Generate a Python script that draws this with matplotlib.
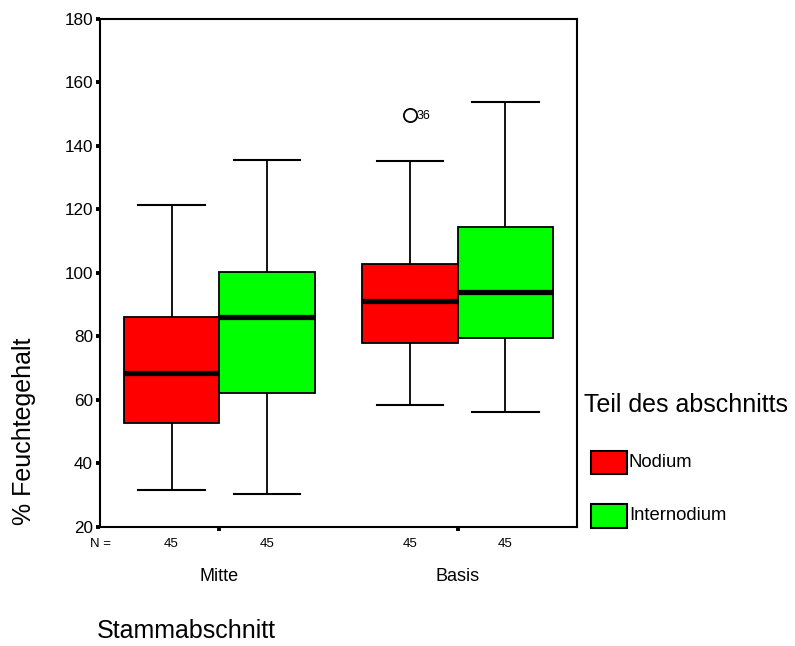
import matplotlib
matplotlib.use("Agg")
import matplotlib.pyplot as plt
from matplotlib.patches import Rectangle

plt.rcParams['font.family'] = ['Liberation Sans', 'DejaVu Sans']

groups = ["Mitte", "Basis"]
parts = ["Nodium", "Internodium"]
colors = ["#ff0000", "#00ff00"]
n_counts = [[45, 45], [45, 45]]
# stats per group, per part
whislo = [[31.5, 30.3], [58.3, 56.0]]
q1 = [[52.7, 62.2], [77.8, 79.5]]
med = [[68.3, 86.2], [91.2, 94.0]]
q3 = [[86.2, 100.2], [102.9, 114.6]]
whishi = [[121.4, 135.5], [135.4, 153.8]]
fliers = [[[], []], [[149.7], []]]
flier_labels = [[[], []], [["36"], []]]

fig = plt.figure(figsize=(7.95, 6.46), dpi=100)
ax = fig.add_axes([100/795, 1-526.7/646, 477/795, (526.7-19)/646])

offsets = [-0.2, 0.2]
bw = 0.4
for gi, g in enumerate(groups):
    for pi, p in enumerate(parts):
        pos = gi + 1 + offsets[pi]
        st = dict(med=med[gi][pi], q1=q1[gi][pi], q3=q3[gi][pi],
                  whislo=whislo[gi][pi], whishi=whishi[gi][pi],
                  fliers=fliers[gi][pi])
        ax.bxp([st], positions=[pos], widths=bw, patch_artist=True,
               showfliers=True, capwidths=[bw*0.7],
               boxprops=dict(facecolor=colors[pi], edgecolor='black', linewidth=1.3),
               medianprops=dict(color='black', linewidth=3.8, solid_capstyle='butt'),
               whiskerprops=dict(color='black', linewidth=1.3),
               capprops=dict(color='black', linewidth=1.5),
               flierprops=dict(marker='o', markersize=9.5, markerfacecolor='none',
                               markeredgecolor='black', markeredgewidth=1.3))
        for v, lab in zip(fliers[gi][pi], flier_labels[gi][pi]):
            ax.annotate(lab, (pos, v), xytext=(5, -0.5), textcoords='offset points',
                        fontsize=9, va='center', ha='left')
        ax.text(pos, -0.034, str(n_counts[gi][pi]), transform=ax.get_xaxis_transform(),
                ha='center', va='center', fontsize=9.5)

ax.text(0.5, -0.034, "N =", transform=ax.get_xaxis_transform(),
        ha='center', va='center', fontsize=9.5)

ax.set_xlim(0.5, 2.5)
ax.set_ylim(20, 180)
ax.set_yticks([20, 40, 60, 80, 100, 120, 140, 160, 180])
ax.set_xticks([1, 2])
ax.set_xticklabels(groups, fontsize=13)
ax.tick_params(axis='x', length=3, width=2.8, pad=27)
ax.tick_params(axis='y', length=3, width=2.8, pad=2, labelsize=12.3)
for s in ax.spines.values():
    s.set_linewidth(1.5)

fig.text(24/795, 1-431.5/646, "% Feuchtegehalt", fontsize=18, rotation=90,
         ha='center', va='center')

fig.text(97/795, 1-631/646, "Stammabschnitt", fontsize=18, ha='left', va='center')

# legend
fig.text(584/795, 1-405/646, "Teil des abschnitts", fontsize=18, ha='left', va='center')
for pi, p in enumerate(parts):
    ytop = [450.7, 504][pi]
    fig.patches.append(Rectangle((591/795, 1-(ytop+23.6)/646), 36/795, 23.6/646,
                                 transform=fig.transFigure, facecolor=colors[pi],
                                 edgecolor='black', linewidth=1.5))
    fig.text(629/795, 1-(ytop+12)/646, p, fontsize=13.3, ha='left', va='center')

fig.savefig("out.png", dpi=100)
